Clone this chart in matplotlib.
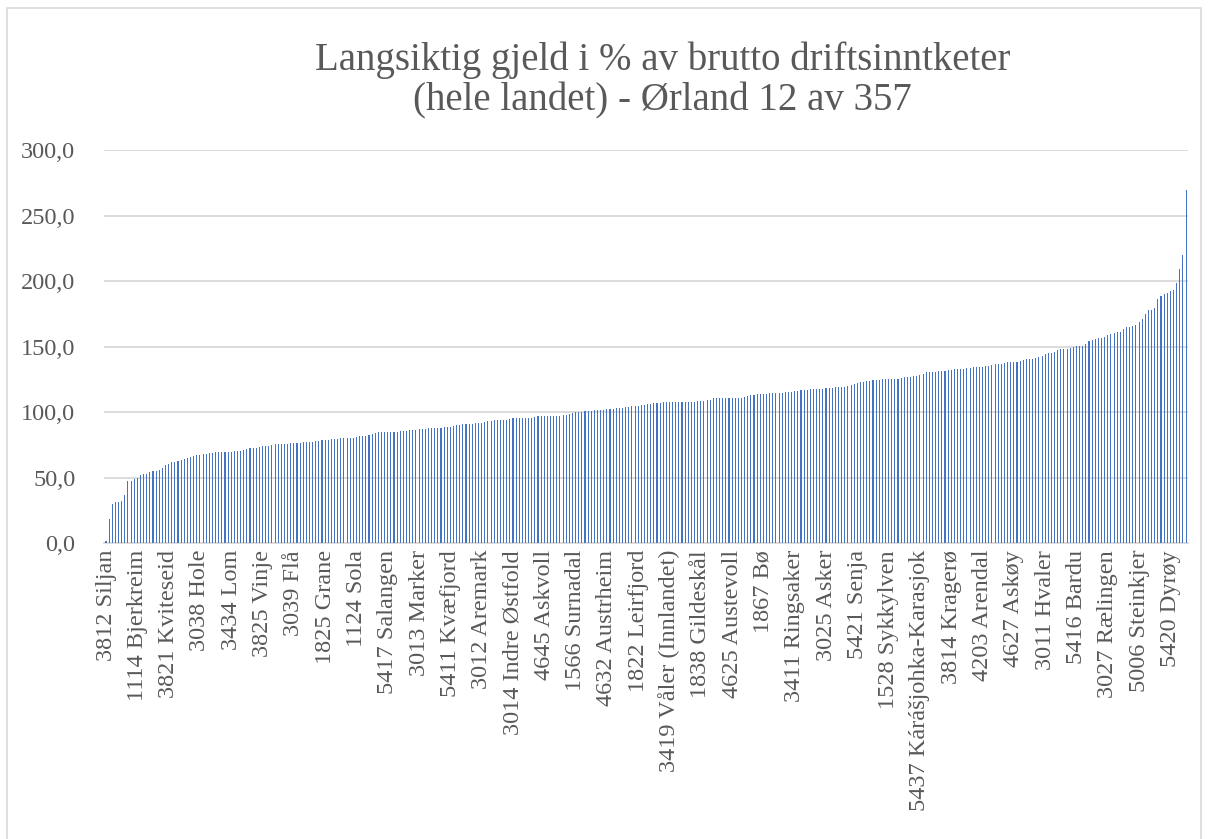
import numpy as np
import matplotlib
matplotlib.use('Agg')
import matplotlib.pyplot as plt
from matplotlib.patches import Rectangle
from matplotlib.ticker import FuncFormatter

# Langsiktig gjeld i % av brutto driftsinntekter, sortert stigende (346 kommuner med data)
values_1 = [1.8, 18.7, 30, 31, 31, 32.3, 36.4, 47, 47.2, 49.2,
            50, 51.8, 53, 53, 54.4, 54.6, 54.6, 55.4, 57, 59.2,
            60.3, 61.5, 62, 62.6, 63.3, 64.1, 64.9, 65.6, 66.4, 67.2,
            67.4, 67.7, 68.2, 68.5, 68.7, 69.2, 69.2, 69.2, 69.5, 69.7,
            69.7, 70, 70.3, 70.3, 71, 72, 72.3, 72.6, 72.6, 73.6,
            73.8, 73.8, 74.4, 75.1, 75.4, 75.4, 75.6, 75.6, 75.9, 76.2,
            76.2, 76.4, 76.7, 76.9, 77.2, 77.2, 77.4, 77.9, 78.2, 78.7,
            78.7, 79, 79.2, 79.5, 79.7, 80, 80.3, 80.3, 80.5, 80.5,
            81.3, 81.5, 81.5, 81.8, 82.3, 83, 84.1, 84.4, 84.6, 84.9,
            85.1, 85.1]
values_2 = [84.9, 84.9, 85.2, 85.5, 85.7, 86, 86.2, 86.5, 86.7, 87,
            87.2, 87.5, 87.8, 88, 88, 88, 88.5, 88.8, 88.8, 89.3,
            90, 90.3, 90.6, 91, 91, 91, 91.3, 91.3, 91.3, 92.3,
            92.9, 93.4, 93.6, 93.9, 93.9, 94.1, 94.1, 94.6, 95.2, 95.7,
            95.7, 95.7, 95.7, 95.7, 95.7, 96.2, 96.7, 96.9, 96.9, 97.2,
            97.2, 97.2, 97.2, 97.2, 97.4, 98, 98.2, 99, 99.7, 100.3,
            100.3, 100.5, 100.8, 101, 101.3, 101.3, 101.3, 101.8, 102, 102.3,
            102.6, 102.8, 102.8, 103.3, 103.6, 104, 104.6, 104.6, 104.6, 105.4,
            105.6, 105.9, 106.4, 106.6, 106.9, 107.1, 107.4, 107.4, 107.4, 107.4,
            107.7, 107.7]
values_3 = [107.7, 107.9, 107.9, 107.9, 107.9, 108.4, 108.7, 108.7, 108.9, 109.4,
            110.5, 110.5, 110.5, 110.5, 110.7, 110.7, 110.7, 111, 111, 111,
            111.2, 112.5, 113, 113.3, 113.5, 114, 114, 114, 114.3, 114.5,
            114.5, 114.5, 114.5, 115, 115, 115.3, 115.8, 116.3, 116.8, 117.1,
            117.1, 117.3, 117.9, 117.9, 117.9, 117.9, 118.1, 118.4, 118.6, 119.1,
            119.1, 119.1, 119.4, 119.9, 120.4, 121.4, 122.2, 122.7, 123, 123.5,
            124, 124.2, 124.5, 124.5, 125, 125, 125, 125, 125.3, 125.5,
            126, 126.5, 126.8, 127, 127.6, 127.8, 128.3, 129.1, 130.4, 130.6,
            130.9, 130.9, 131.1, 131.4, 131.6, 131.9, 132.4, 132.7, 132.9, 132.9,
            133.2, 133.7, 133.9]
values_4 = [134.1, 134.4, 134.4, 134.6, 134.9, 134.9, 136.1, 136.4, 136.4, 136.6,
            137.4, 137.9, 137.9, 137.9, 138.2, 138.7, 139.7, 140.2, 140.5, 140.5,
            141, 141.7, 143, 144, 144.8, 144.8, 145.5, 147, 147.8, 147.8,
            148.1, 148.9, 149.9, 150.1, 150.4, 150.6, 152.2, 153.9, 154.7, 155.7,
            156.2, 156.7, 157.3, 158.5, 159.5, 160.6, 161.1, 161.1, 163.6, 164.6,
            164.9, 165.4, 166.4, 168.7, 171.2, 174.8, 177.9, 177.9, 179.1, 186,
            188.3, 190.1, 191.1, 192.6, 193.4, 198.5, 209.4, 220.1, 269.7]
values = values_1 + values_2 + values_3 + values_4

# every 10th category gets a visible label
tick_labels = ['3812 Siljan', '1114 Bjerkreim', '3821 Kviteseid', '3038 Hole', '3434 Lom',
               '3825 Vinje', '3039 Flå', '1825 Grane', '1124 Sola', '5417 Salangen',
               '3013 Marker', '5411 Kvæfjord', '3012 Aremark', '3014 Indre Østfold', '4645 Askvoll',
               '1566 Surnadal', '4632 Austrheim', '1822 Leirfjord', '3419 Våler (Innlandet)', '1838 Gildeskål',
               '4625 Austevoll', '1867 Bø', '3411 Ringsaker', '3025 Asker', '5421 Senja',
               '1528 Sykkylven', '5437 Kárášjohka-Karasjok', '3814 Kragerø', '4203 Arendal', '4627 Askøy',
               '3011 Hvaler', '5416 Bardu', '3027 Rælingen', '5006 Steinkjer', '5420 Dyrøy']
label_step = 10

title = 'Langsiktig gjeld i % av brutto driftsinntketer\n(hele landet) - Ørland 12 av 357'

grey_text = '#595959'
grid_col  = '#D9D9D9'
bar_col   = '#4472C4'

plt.rcParams['font.family'] = ['Liberation Serif', 'DejaVu Serif']

fig = plt.figure(figsize=(12.09, 8.39), dpi=100)
ax = fig.add_axes([0.0864, 0.3528, 0.8959, 0.4684])

x = np.arange(len(values))
ax.bar(x, values, width=0.34, color=bar_col, zorder=3)

ax.set_xlim(-0.5, len(values) - 0.5)
ax.set_ylim(0, 300)
ax.set_yticks(np.arange(0, 301, 50))
ax.yaxis.set_major_formatter(FuncFormatter(lambda v, p: f'{v:.1f}'.replace('.', ',')))
ax.grid(True, axis='y', color=grid_col, lw=1.3, zorder=0)

ax.set_xticks(np.arange(0, len(values), label_step))
ax.set_xticklabels(tick_labels, rotation=90, fontsize=17.5, color=grey_text)
ax.tick_params(axis='y', length=0, pad=21, labelsize=17.5, labelcolor=grey_text)
ax.tick_params(axis='x', length=0, pad=5)

for s in ['top', 'right', 'left']:
    ax.spines[s].set_visible(False)
ax.spines['bottom'].set_color(grid_col)
ax.spines['bottom'].set_linewidth(1.3)

fig.text(0.548, 0.904, title, ha='center', va='center', fontsize=28,
         color=grey_text, linespacing=1.12)

# chart area border
fig.patches.append(Rectangle((0.006, -0.01), 0.987, 1.0, transform=fig.transFigure,
                             fill=False, edgecolor=grid_col, lw=1.2))

fig.savefig('out.png', dpi=100)
